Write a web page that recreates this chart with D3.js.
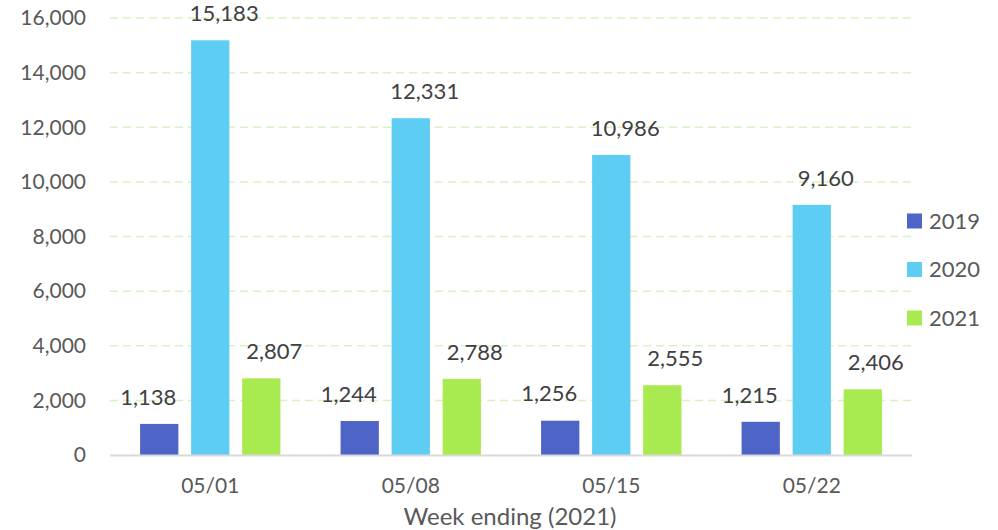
<!DOCTYPE html>
<html><head><meta charset="utf-8">
<script src="https://cdn.jsdelivr.net/npm/d3@7"></script>
<style>body{margin:0;background:#fff}svg{display:block}text{font-family:Lato,"Open Sans",sans-serif}</style>
</head><body><svg id="c" width="998" height="530"></svg>
<script>
const categories = ["05/01","05/08","05/15","05/22"];
const seriesNames = ["2019","2020","2021"];
const values2019 = [1138,1244,1256,1215];
const values2020 = [15183,12331,10986,9160];
const values2021 = [2807,2788,2555,2406];
const yTicks = [0,2000,4000,6000,8000,10000,12000,14000,16000];
const colors = ["#4e65c7","#5ecdf3","#aaea51"];
const xTitle = "Week ending (2021)";

const series = [values2019, values2020, values2021];
const svg = d3.select("#c");
const L = 110, R = 912, T = 18, B = 455;
const x = d3.scaleBand().domain(categories).range([L, R]).paddingInner(0.3).paddingOuter(0.15);
const xs = d3.scaleBand().domain(seriesNames).range([0, x.bandwidth()]).paddingInner(0.25);
const y = d3.scaleLinear().domain([0,16000]).range([B, T]);
const fmt = d3.format(",");

// gridlines
svg.append("g").selectAll("line").data(yTicks.filter(d=>d>0)).join("line")
  .attr("x1", L).attr("x2", R).attr("y1", d=>y(d)).attr("y2", d=>y(d))
  .attr("stroke", "#d8f3bf").attr("stroke-width", 1.5).attr("stroke-dasharray", "8,5");

// y tick labels
svg.append("g").selectAll("text").data(yTicks).join("text")
  .attr("x", 86).attr("y", d=>y(d)).attr("dy", "0.35em").attr("text-anchor","end")
  .attr("font-size", 21).attr("fill", "#595959").text(d=>fmt(d));

// bars
const labelOffsets = [-11, 14, 13];
seriesNames.forEach((s, si) => {
  const g = svg.append("g");
  g.selectAll("rect").data(categories).join("rect")
    .attr("x", c => x(c) + xs(s)).attr("width", xs.bandwidth())
    .attr("y", (c,i) => y(series[si][i])).attr("height", (c,i) => B - y(series[si][i]))
    .attr("fill", colors[si]);
  g.selectAll("text").data(categories).join("text")
    .attr("x", c => x(c) + xs(s) + xs.bandwidth()/2 + labelOffsets[si])
    .attr("y", (c,i) => y(series[si][i]) - 27).attr("dy","0.35em")
    .attr("text-anchor","middle").attr("font-size", 22).attr("fill","#404040")
    .text((c,i) => fmt(series[si][i]));
});

// x axis line
svg.append("line").attr("x1", L).attr("x2", R).attr("y1", B+0.5).attr("y2", B+0.5)
  .attr("stroke", "#d9d9d9").attr("stroke-width", 2);

// x tick labels
svg.append("g").selectAll("text").data(categories).join("text")
  .attr("x", c => x(c) + x.bandwidth()/2).attr("y", 486).attr("dy","0.35em")
  .attr("text-anchor","middle").attr("font-size", 21).attr("fill","#595959").text(d=>d);

svg.append("text").attr("x", 510).attr("y", 517).attr("dy","0.35em").attr("text-anchor","middle")
  .attr("font-size", 24).attr("fill","#595959").text(xTitle);

// legend
const lg = svg.append("g").selectAll("g").data(seriesNames).join("g")
  .attr("transform", (d,i) => `translate(907,${221 + i*48.5})`);
lg.append("rect").attr("x",0).attr("y",-7.5).attr("width",15).attr("height",15).attr("fill",(d,i)=>colors[i]);
lg.append("text").attr("x",22).attr("y",0).attr("dy","0.35em").attr("font-size",22).attr("fill","#595959").text(d=>d);
</script></body></html>
